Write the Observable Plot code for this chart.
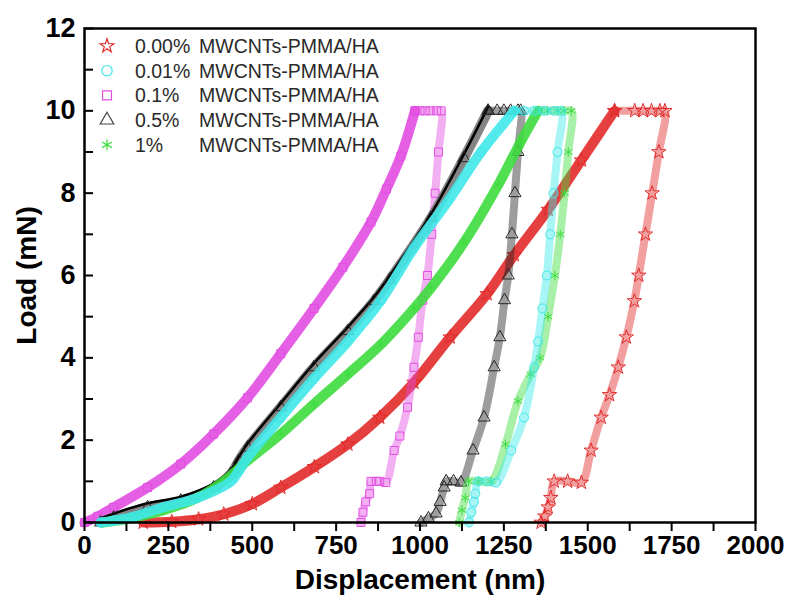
<!DOCTYPE html>
<html>
<head>
<meta charset="utf-8">
<script src="https://cdn.jsdelivr.net/npm/d3@7"></script>
<script src="https://cdn.jsdelivr.net/npm/@observablehq/plot@0.6"></script>
<style>
  html, body { margin: 0; padding: 0; background: #fff; }
  #chart { width: 786px; height: 602px; }
  svg { font-family: "Liberation Sans", Arial, sans-serif; }
</style>
</head>
<body>
<div id="chart"></div>
<script>
// ---- Series (legend order) ----
const seriesPct = ["0.00%", "0.01%", "0.1%", "0.5%", "1%"];
const seriesName = "MWCNTs-PMMA/HA";
const seriesColor = ["#e22a2a", "#3fe8e8", "#e24ee2", "#262626", "#3ddc3d"];
const seriesSymbol = ["star", "circle", "square", "triangle", "asterisk"];

// ---- Axis ticks ----
const xMajorTicks = [0, 250, 500, 750, 1000, 1250, 1500, 1750, 2000];
const xMinorTicks = [0, 125, 250, 375, 500, 625, 750, 875, 1000, 1125, 1250, 1375, 1500, 1625, 1750, 1875, 2000];
const yMajorTicks = [0, 2, 4, 6, 8, 10, 12];
const yMinorTicks = [0, 1, 2, 3, 4, 5, 6, 7, 8, 9, 10, 11, 12];

// ---- 0.00% MWCNTs-PMMA/HA ----
const load000Disp = [175, 260, 340, 415, 500, 585, 685, 785, 880, 982, 1090, 1200, 1281, 1382, 1481, 1580];
const load000Load = [0, 0.02, 0.08, 0.2, 0.45, 0.85, 1.35, 1.9, 2.55, 3.4, 4.5, 5.55, 6.5, 7.6, 8.8, 10];
const unload000Disp = [1580, 1640, 1665, 1690, 1715, 1730, 1712, 1692, 1672, 1652, 1639, 1615, 1591, 1565, 1540, 1510, 1481, 1440, 1400, 1390, 1382, 1372, 1361];
const unload000Load = [10, 10, 10, 10, 10, 10, 9, 8, 7, 6, 5.38, 4.5, 3.77, 3.1, 2.55, 1.75, 0.97, 1, 1, 0.6, 0.37, 0.15, 0];

// ---- 0.01% MWCNTs-PMMA/HA ----
const load001Disp = [48, 90, 137, 236, 337, 436, 460, 486, 585, 684, 785, 884, 982, 1083, 1182, 1281];
const load001Load = [0, 0.05, 0.12, 0.37, 0.6, 1.0, 1.25, 1.58, 2.55, 3.5, 4.4, 5.4, 6.67, 7.8, 9.0, 10];
const unload001Disp = [1281, 1310, 1342, 1370, 1400, 1421, 1410, 1398, 1388, 1378, 1365, 1352, 1340, 1310, 1272, 1227, 1200, 1173, 1165, 1161, 1153, 1146];
const unload001Load = [10, 10, 10, 10, 10, 10, 9, 8, 7, 6, 5.2, 4.4, 3.77, 2.55, 1.75, 0.97, 1, 1, 0.7, 0.5, 0.25, 0];

// ---- 0.1% MWCNTs-PMMA/HA ----
const load01Disp = [0, 40, 87, 188, 287, 385, 486, 585, 684, 770, 854, 900, 943, 985];
const load01Load = [0, 0.15, 0.37, 0.85, 1.42, 2.15, 3.03, 4.1, 5.2, 6.2, 7.3, 8.1, 8.9, 10];
const unload01Disp = [985, 1000, 1015, 1030, 1050, 1063, 1055, 1045, 1035, 1022, 1008, 995, 982, 963, 940, 923, 898, 880, 870, 854, 850, 838, 830, 824];
const unload01Load = [10, 10, 10, 10, 10, 10, 9, 8, 7, 6, 5.4, 4.5, 3.77, 2.8, 2.1, 1.75, 0.97, 1, 1, 1, 0.7, 0.5, 0.25, 0];

// ---- 0.5% MWCNTs-PMMA/HA ----
const load05Disp = [48, 87, 188, 287, 385, 436, 460, 486, 585, 684, 785, 863, 910, 1033, 1131, 1203];
const load05Load = [0, 0.12, 0.37, 0.53, 0.85, 1.18, 1.5, 1.82, 2.8, 3.77, 4.65, 5.38, 5.9, 7.4, 8.85, 10];
const unload05Disp = [1203, 1230, 1250, 1270, 1292, 1300, 1292, 1283, 1274, 1263, 1252, 1238, 1221, 1191, 1158, 1122, 1100, 1078, 1072, 1060, 1048, 1025, 1003];
const unload05Load = [10, 10, 10, 10, 10, 10, 9, 8, 7, 6, 5.4, 4.5, 3.77, 2.55, 1.75, 0.97, 1, 1, 0.85, 0.5, 0.22, 0.1, 0];

// ---- 1% MWCNTs-PMMA/HA ----
const load1Disp = [55, 137, 236, 337, 415, 486, 585, 684, 785, 884, 982, 1033, 1131, 1233, 1301, 1352];
const load1Load = [0, 0.1, 0.3, 0.6, 1.0, 1.5, 2.15, 2.88, 3.6, 4.33, 5.2, 5.7, 6.8, 8.2, 9.26, 10];
const unload1Disp = [1352, 1380, 1410, 1430, 1451, 1442, 1431, 1418, 1402, 1382, 1358, 1330, 1292, 1255, 1212, 1175, 1145, 1135, 1125, 1117];
const unload1Load = [10, 10, 10, 10, 10, 9, 8, 7, 6, 5, 4, 3.6, 2.95, 1.9, 1.0, 1, 1, 0.6, 0.3, 0];

const loadDisp = [load000Disp, load001Disp, load01Disp, load05Disp, load1Disp];
const loadLoad = [load000Load, load001Load, load01Load, load05Load, load1Load];
const unloadDisp = [unload000Disp, unload001Disp, unload01Disp, unload05Disp, unload1Disp];
const unloadLoad = [unload000Load, unload001Load, unload01Load, unload05Load, unload1Load];

const rows = (xs, ys) => xs.map((x, i) => ({x, y: ys[i]}));

// drawing order (back to front)
const drawOrder = [0, 2, 3, 4, 1];
const marks = [];
for (const i of drawOrder) {
  const L = rows(loadDisp[i], loadLoad[i]);
  const U = rows(unloadDisp[i], unloadLoad[i]);
  const isBlack = i === 3;
  marks.push(Plot.line(L, {x: "x", y: "y", stroke: isBlack ? "#777" : seriesColor[i], strokeWidth: 10, strokeOpacity: 0.9, curve: "catmull-rom"}));
  if (isBlack) marks.push(Plot.line(L, {x: "x", y: "y", stroke: "#000", strokeWidth: 2.5, curve: "catmull-rom", dy: -4}));
  marks.push(Plot.line(U, {x: "x", y: "y", stroke: seriesColor[i], strokeWidth: 8, strokeOpacity: 0.45, curve: "catmull-rom"}));
  marks.push(Plot.dot(L.concat(U), {x: "x", y: "y", symbol: seriesSymbol[i], stroke: seriesColor[i], fill: "none", r: 4.5, strokeWidth: 1}));
}

const font = "'Liberation Sans', Arial, sans-serif";

const chart = Plot.plot({
  width: 786,
  height: 602,
  marginLeft: 84,
  marginRight: 31,
  marginTop: 28,
  marginBottom: 80,
  x: {domain: [0, 2000]},
  y: {domain: [0, 12]},
  style: {fontFamily: font, background: "#fff", color: "#000"},
  marks: [
    ...marks,
    Plot.axisX({ticks: xMinorTicks, tickSize: 9, strokeWidth: 2, tickFormat: () => "", label: null}),
    Plot.axisX({ticks: xMajorTicks, tickSize: 0, tickPadding: 13, fontSize: 26, fontWeight: "bold", tickFormat: d3.format("d"), label: null}),
    Plot.axisY({ticks: yMinorTicks, tickSize: 9, dx: 9, strokeWidth: 2, tickFormat: () => "", label: null}),
    Plot.axisY({ticks: yMajorTicks, tickSize: 0, tickPadding: 9, fontSize: 27, fontWeight: "bold", label: null}),
    Plot.frame({stroke: "#000", strokeWidth: 2.5}),
    Plot.text(["Displacement (nm)"], {frameAnchor: "bottom", dy: 58, lineAnchor: "middle", textAnchor: "middle", fontSize: 28, fontWeight: "bold"}),
    Plot.text(["Load (mN)"], {frameAnchor: "left", dx: -57, rotate: -90, lineAnchor: "middle", textAnchor: "middle", fontSize: 28, fontWeight: "bold"})
  ]
});

// Legend inside the plot (top-left)
const svg = d3.select(chart);
const lg = svg.append("g").attr("font-family", font).attr("font-size", 19.5).attr("fill", "#2a2a2a").attr("text-anchor", "start");
const symMap = {star: d3.symbolStar, circle: d3.symbolCircle, square: d3.symbolSquare, triangle: d3.symbolTriangle, asterisk: d3.symbolAsterisk};
const symSize = {star: 60, circle: 85, square: 80, triangle: 80, asterisk: 90};
seriesPct.forEach((p, i) => {
  const cy = 46 + i * 24.7;
  lg.append("path")
    .attr("transform", `translate(107,${cy})`)
    .attr("d", d3.symbol(symMap[seriesSymbol[i]], symSize[seriesSymbol[i]])())
    .attr("fill", "none")
    .attr("stroke", i === 3 ? "#444" : seriesColor[i])
    .attr("stroke-width", 1.2);
  lg.append("text").attr("x", 135).attr("y", cy).attr("dy", "0.35em").attr("text-anchor", "start").text(p);
  lg.append("text").attr("x", 199).attr("y", cy).attr("dy", "0.35em").attr("text-anchor", "start").text(seriesName);
});

document.getElementById("chart").appendChild(chart);
</script>
</body>
</html>
